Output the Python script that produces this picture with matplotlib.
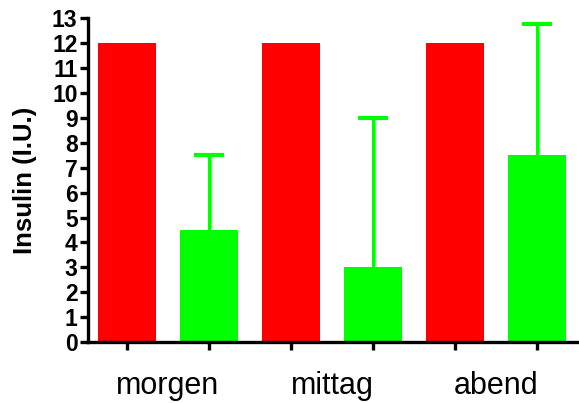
import matplotlib
matplotlib.use("Agg")
import matplotlib.pyplot as plt
import numpy as np

plt.rcParams['font.family'] = ['Liberation Sans', 'DejaVu Sans']

# Daten
zeiten = ["morgen", "mittag", "abend"]
rot_werte = [12, 12, 12]
gruen_werte = [4.5, 3.0, 7.5]
gruen_fehler_oben = [3.0, 6.0, 5.25]

fig = plt.figure(figsize=(5.79, 4.03), dpi=100)
ax = fig.add_axes([0.152, 0.151, 0.848, 0.804])

pos_rot = np.arange(len(zeiten)) * 2
pos_gruen = pos_rot + 1
breite = 0.71

ax.bar(pos_rot, rot_werte, width=breite, color='#ff0000', zorder=2)
# nur obere Fehlerbalken, Kappe nur oben
ax.errorbar(pos_gruen, gruen_werte, yerr=[[0] * 3, gruen_fehler_oben],
            fmt='none', ecolor='#00ff00', elinewidth=2.2, capsize=0, zorder=1)
oben = np.array(gruen_werte) + np.array(gruen_fehler_oben)
ax.plot(pos_gruen, oben, linestyle='none', marker='_', markersize=22,
        markeredgewidth=3, color='#00ff00', zorder=1, clip_on=False)
ax.bar(pos_gruen, gruen_werte, width=breite, color='#00ff00', zorder=2)

ax.set_ylim(0, 13)
ax.set_xlim(-0.476, 5.51)
ax.set_yticks(range(0, 14))
ax.set_yticklabels([str(i) for i in range(14)], fontsize=16.5, fontweight='bold')

# Ticks unter jedem Balken, Beschriftung mittig zwischen den Paaren
ax.set_xticks(np.arange(6))
ax.set_xticklabels([])
for i, z in enumerate(zeiten):
    ax.text(pos_rot[i] + 0.5, -2.09, z, ha='center', va='baseline',
            fontsize=22, clip_on=False)

ax.set_ylabel("Insulin (I.U.)", fontsize=18.5, fontweight='bold', labelpad=11)

for s in ['top', 'right']:
    ax.spines[s].set_visible(False)
for s in ['left', 'bottom']:
    ax.spines[s].set_linewidth(2.4)
ax.tick_params(axis='both', direction='out', width=2.4, length=5.5, pad=2)
ax.tick_params(axis='x', length=6)

fig.savefig("out.png", dpi=100)
